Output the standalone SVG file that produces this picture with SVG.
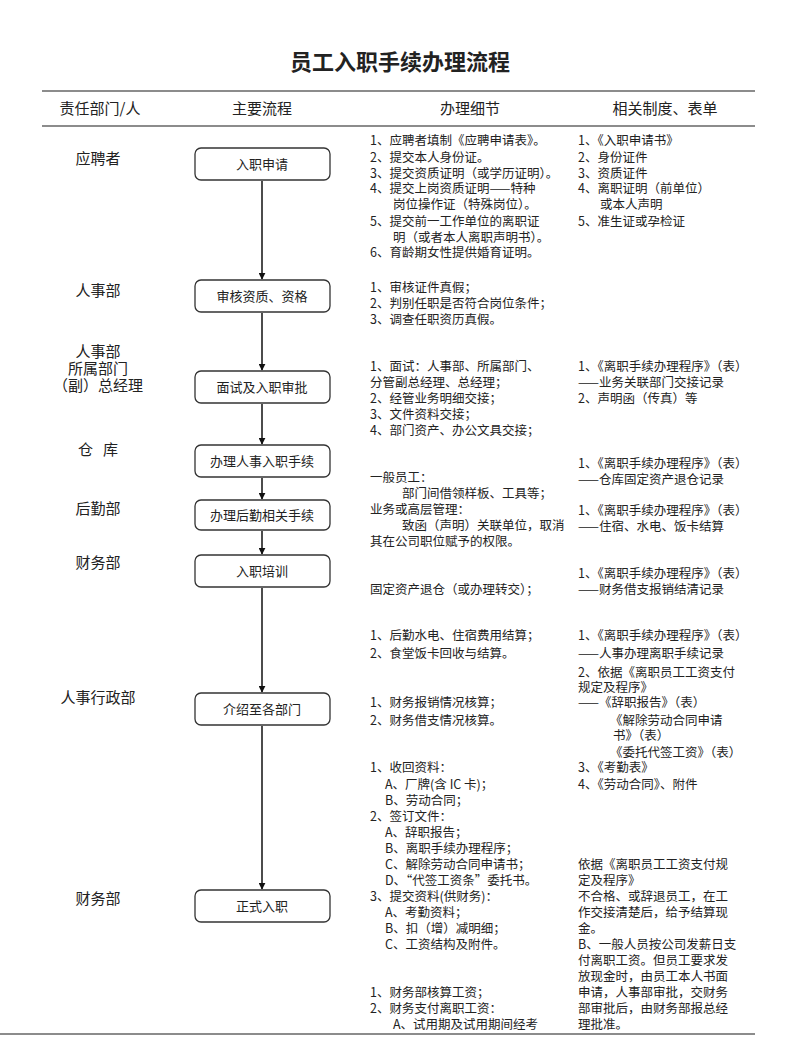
<svg xmlns="http://www.w3.org/2000/svg" width="800" height="1044" viewBox="0 0 800 1044">
<defs>
<marker id="ah" viewBox="0 0 10 10" refX="9" refY="5" markerWidth="7" markerHeight="7" orient="auto" markerUnits="userSpaceOnUse"><path d="M0,0 L10,5 L0,10 z" fill="#111"/></marker>
<style>
text{font-family:"Noto Sans CJK SC","Liberation Sans",sans-serif;fill:#222}
.t{font-size:22px;font-weight:bold;text-anchor:middle}
.h{font-size:15px;text-anchor:middle}
.l{font-size:15px;text-anchor:middle}
.n{font-size:13px;text-anchor:middle}
.d{font-size:12.5px}
.box{fill:#fff;stroke:#333;stroke-width:1.3}
.rule{stroke:#666;stroke-width:1.5}
.c{stroke:#111;stroke-width:1.5;fill:none;marker-end:url(#ah)}
</style>
</defs>
<rect width="800" height="1044" fill="#fff"/>
<text class="t" x="400" y="70">员工入职手续办理流程</text>
<line class="rule" x1="42" y1="91" x2="755" y2="91"/>
<line class="rule" x1="42" y1="126" x2="755" y2="126"/>
<line class="rule" x1="0" y1="1034" x2="755" y2="1034"/>
<text class="h" x="100" y="114">责任部门/人</text>
<text class="h" x="262" y="114">主要流程</text>
<text class="h" x="470" y="114">办理细节</text>
<text class="h" x="665" y="114">相关制度、表单</text>
<g id="labels">
<text class="l" x="98" y="164">应聘者</text>
<text class="l" x="98" y="296">人事部</text>
<text class="l" x="98" y="357">人事部</text>
<text class="l" x="98" y="374">所属部门</text>
<text class="l" x="98" y="391">（副）总经理</text>
<text class="l" x="98" y="455" xml:space="preserve">仓   库</text>
<text class="l" x="98" y="514">后勤部</text>
<text class="l" x="98" y="568">财务部</text>
<text class="l" x="98" y="703">人事行政部</text>
<text class="l" x="98" y="904">财务部</text>
</g>
<g id="connectors">
<line class="c" x1="262" y1="181" x2="262" y2="279"/>
<line class="c" x1="262" y1="313" x2="262" y2="370"/>
<line class="c" x1="262" y1="404" x2="262" y2="444"/>
<line class="c" x1="262" y1="478" x2="262" y2="499"/>
<line class="c" x1="262" y1="531" x2="262" y2="554"/>
<line class="c" x1="262" y1="588" x2="262" y2="692"/>
<line class="c" x1="262" y1="726" x2="262" y2="889"/>
</g>
<g id="n1"><rect class="box" x="195" y="148" width="135" height="32" rx="6"/><text class="n" x="262" y="169">入职申请</text></g>
<g id="n2"><rect class="box" x="195" y="280" width="135" height="32" rx="6"/><text class="n" x="262" y="301">审核资质、资格</text></g>
<g id="n3"><rect class="box" x="195" y="371" width="135" height="32" rx="6"/><text class="n" x="262" y="392">面试及入职审批</text></g>
<g id="n4"><rect class="box" x="195" y="445" width="135" height="32" rx="6"/><text class="n" x="262" y="466">办理人事入职手续</text></g>
<g id="n5"><rect class="box" x="195" y="500" width="135" height="30" rx="6"/><text class="n" x="262" y="520">办理后勤相关手续</text></g>
<g id="n6"><rect class="box" x="195" y="555" width="135" height="32" rx="6"/><text class="n" x="262" y="576">入职培训</text></g>
<g id="n7"><rect class="box" x="195" y="693" width="135" height="32" rx="6"/><text class="n" x="262" y="714">介绍至各部门</text></g>
<g id="n8"><rect class="box" x="195" y="890" width="135" height="32" rx="6"/><text class="n" x="262" y="911">正式入职</text></g>
<g id="details">
<text class="d" x="370" y="145">1、应聘者填制《应聘申请表》。</text>
<text class="d" x="370" y="162">2、提交本人身份证。</text>
<text class="d" x="370" y="178">3、提交资质证明（或学历证明）。</text>
<text class="d" x="370" y="193">4、提交上岗资质证明——特种</text>
<text class="d" x="393" y="209">岗位操作证（特殊岗位）。</text>
<text class="d" x="370" y="226">5、提交前一工作单位的离职证</text>
<text class="d" x="393" y="242">明（或者本人离职声明书）。</text>
<text class="d" x="370" y="257">6、育龄期女性提供婚育证明。</text>
<text class="d" x="370" y="292">1、审核证件真假；</text>
<text class="d" x="370" y="308">2、判别任职是否符合岗位条件；</text>
<text class="d" x="370" y="324">3、调查任职资历真假。</text>
<text class="d" x="370" y="371">1、面试：人事部、所属部门、</text>
<text class="d" x="370" y="387">分管副总经理、总经理；</text>
<text class="d" x="370" y="403">2、经管业务明细交接；</text>
<text class="d" x="370" y="419">3、文件资料交接；</text>
<text class="d" x="370" y="435">4、部门资产、办公文具交接；</text>
<text class="d" x="370" y="482">一般员工：</text>
<text class="d" x="402" y="498">部门间借领样板、工具等；</text>
<text class="d" x="370" y="514">业务或高层管理：</text>
<text class="d" x="402" y="530">致函（声明）关联单位，取消</text>
<text class="d" x="370" y="546">其在公司职位赋予的权限。</text>
<text class="d" x="370" y="594">固定资产退仓（或办理转交）；</text>
<text class="d" x="370" y="640">1、后勤水电、住宿费用结算；</text>
<text class="d" x="370" y="658">2、食堂饭卡回收与结算。</text>
<text class="d" x="370" y="707">1、财务报销情况核算；</text>
<text class="d" x="370" y="725">2、财务借支情况核算。</text>
<text class="d" x="370" y="772">1、收回资料：</text>
<text class="d" x="385" y="789">A、厂牌(含 IC 卡)；</text>
<text class="d" x="385" y="805">B、劳动合同；</text>
<text class="d" x="370" y="821">2、签订文件：</text>
<text class="d" x="385" y="837">A、辞职报告；</text>
<text class="d" x="385" y="853">B、离职手续办理程序；</text>
<text class="d" x="385" y="869">C、解除劳动合同申请书；</text>
<text class="d" x="385" y="885">D、“代签工资条”委托书。</text>
<text class="d" x="370" y="901">3、提交资料(供财务)：</text>
<text class="d" x="385" y="917">A、考勤资料；</text>
<text class="d" x="385" y="933">B、扣（增）减明细；</text>
<text class="d" x="385" y="949">C、工资结构及附件。</text>
<text class="d" x="370" y="997">1、财务部核算工资；</text>
<text class="d" x="370" y="1013">2、财务支付离职工资：</text>
<text class="d" x="393" y="1029">A、试用期及试用期间经考</text>
</g>
<g id="forms">
<text class="d" x="578" y="145">1、《入职申请书》</text>
<text class="d" x="578" y="162">2、身份证件</text>
<text class="d" x="578" y="178">3、资质证件</text>
<text class="d" x="578" y="193">4、离职证明（前单位）</text>
<text class="d" x="600" y="209">或本人声明</text>
<text class="d" x="578" y="226">5、准生证或孕检证</text>
<text class="d" x="578" y="371">1、《离职手续办理程序》（表）</text>
<text class="d" x="578" y="387">——业务关联部门交接记录</text>
<text class="d" x="578" y="403">2、声明函（传真）等</text>
<text class="d" x="578" y="468">1、《离职手续办理程序》（表）</text>
<text class="d" x="578" y="484">——仓库固定资产退仓记录</text>
<text class="d" x="578" y="515">1、《离职手续办理程序》（表）</text>
<text class="d" x="578" y="531">——住宿、水电、饭卡结算</text>
<text class="d" x="578" y="578">1、《离职手续办理程序》（表）</text>
<text class="d" x="578" y="594">——财务借支报销结清记录</text>
<text class="d" x="578" y="640">1、《离职手续办理程序》（表）</text>
<text class="d" x="578" y="658">——人事办理离职手续记录</text>
<text class="d" x="578" y="677">2、依据《离职员工工资支付</text>
<text class="d" x="578" y="692">规定及程序》</text>
<text class="d" x="578" y="707">——《辞职报告》（表）</text>
<text class="d" x="610" y="725">《解除劳动合同申请</text>
<text class="d" x="613" y="740">书》（表）</text>
<text class="d" x="610" y="757">《委托代签工资》（表）</text>
<text class="d" x="578" y="772">3、《考勤表》</text>
<text class="d" x="578" y="789">4、《劳动合同》、附件</text>
<text class="d" x="578" y="869">依据《离职员工工资支付规</text>
<text class="d" x="578" y="885">定及程序》</text>
<text class="d" x="578" y="901">不合格、或辞退员工，在工</text>
<text class="d" x="578" y="917">作交接清楚后，给予结算现</text>
<text class="d" x="578" y="933">金。</text>
<text class="d" x="578" y="949">B、一般人员按公司发薪日支</text>
<text class="d" x="578" y="965">付离职工资。但员工要求发</text>
<text class="d" x="578" y="981">放现金时，由员工本人书面</text>
<text class="d" x="578" y="997">申请，人事部审批，交财务</text>
<text class="d" x="578" y="1013">部审批后，由财务部报总经</text>
<text class="d" x="578" y="1029">理批准。</text>
</g>
</svg>
